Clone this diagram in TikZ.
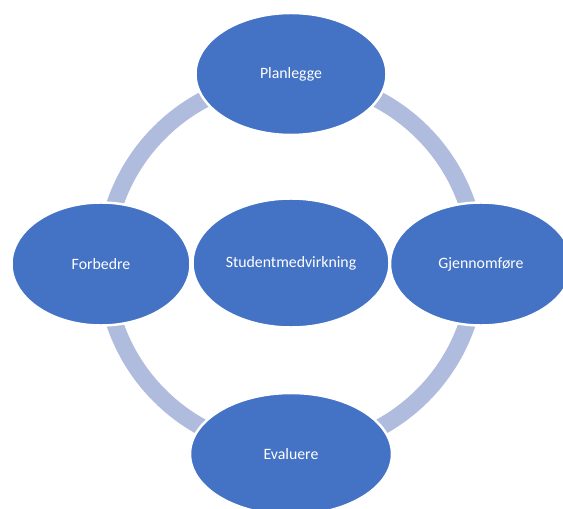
\documentclass[tikz,border=0pt]{standalone}
\usepackage{fontspec}
\setmainfont{Carlito}
\usetikzlibrary{shapes.geometric}
\definecolor{stepfill}{RGB}{68,114,196}
\definecolor{ringcol}{RGB}{176,188,222}
\tikzset{
	stage/.style={ellipse, fill=stepfill, draw=white, line width=1.4pt, inner sep=0pt, text=white, font=\fontsize{9pt}{11pt}\selectfont},
	ring/.style={draw=ringcol, line width=0.34cm}
}
\begin{document}
\begin{tikzpicture}[x=0.02cm, y=-0.02cm]
					\useasboundingbox (0,0) rectangle (563,509);
					\coordinate (O) at (291,264);

					% the cycle ring behind the stages
					\draw[ring] (O) circle[radius=3.72cm];

					\node[stage, minimum width=3.82cm, minimum height=2.44cm] (plan) at (291,74) {Planlegge};
					\node[stage, minimum width=3.64cm, minimum height=2.46cm] (gjen) at (481,264) {Gjennomføre};
					\node[stage, minimum width=4.04cm, minimum height=2.44cm] (eval) at (291,454) {Evaluere};
					\node[stage, minimum width=3.58cm, minimum height=2.46cm] (forb) at (101,264) {Forbedre};

					% centre
					\node[stage, minimum width=3.94cm, minimum height=2.58cm] (stud) at (291,263) {Studentmedvirkning};
\end{tikzpicture}
\end{document}
